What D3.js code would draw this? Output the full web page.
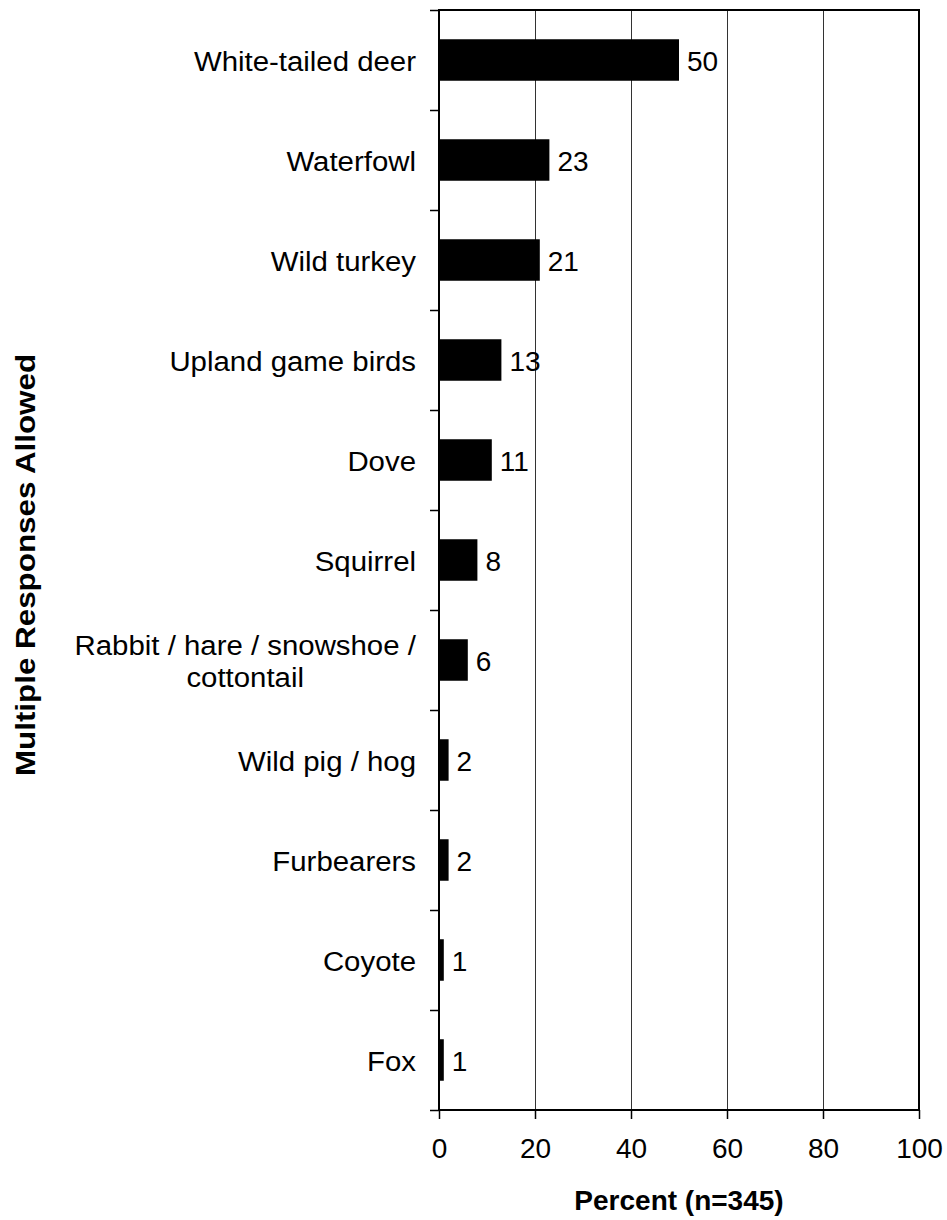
<!DOCTYPE html>
<html>
<head>
<meta charset="utf-8">
<script src="https://cdn.jsdelivr.net/npm/d3@7"></script>
<style>
  html, body { margin: 0; padding: 0; background: #fff; }
  svg { display: block; font-family: "Liberation Sans", Arial, Helvetica, sans-serif; }
</style>
</head>
<body>
<svg id="chart" width="947" height="1220"></svg>
<script>
// Species hunted (percent of respondents)
const categories = [
  "White-tailed deer",
  "Waterfowl",
  "Wild turkey",
  "Upland game birds",
  "Dove",
  "Squirrel",
  "Rabbit / hare / snowshoe / cottontail",
  "Wild pig / hog",
  "Furbearers",
  "Coyote",
  "Fox"
];
const percents = [50, 23, 21, 13, 11, 8, 6, 2, 2, 1, 1];
const xTickValues = [0, 20, 40, 60, 80, 100];
const gridValues = [20, 40, 60, 80];
const xTitle = "Percent (n=345)";
const yTitle = "Multiple Responses Allowed";

const W = 947, H = 1220;
const margin = { top: 10, right: 28, bottom: 110, left: 439 };
const w = W - margin.left - margin.right;
const h = H - margin.top - margin.bottom;
const FONT = 28;
const STRETCH = 1.05;       // slight horizontal widening of the label glyphs
const TITLE_STRETCH = 1.12;

const svg = d3.select("#chart");
const g = svg.append("g").attr("transform", `translate(${margin.left},${margin.top})`);

const x = d3.scaleLinear().domain([0, 100]).range([0, w]);
const y = d3.scaleBand().domain(categories).range([0, h])
  .paddingInner(0.585).paddingOuter(0.2925);
// Category boundaries, used for the tick marks between bars
const yEdge = d3.scaleLinear().domain([0, categories.length]).range([0, h]);

// Vertical gridlines
g.append("g")
  .call(d3.axisBottom(x).tickValues(gridValues).tickSize(h).tickFormat(""))
  .call(s => s.select(".domain").remove())
  .call(s => s.selectAll(".tick line").attr("stroke", "#333").attr("stroke-width", 1));

// Bars
g.selectAll("rect.bar")
  .data(categories)
  .join("rect")
  .attr("class", "bar")
  .attr("x", x(0))
  .attr("y", d => y(d))
  .attr("width", (d, i) => x(percents[i]) - x(0))
  .attr("height", y.bandwidth())
  .attr("fill", "#000");

// Plot frame
g.append("rect")
  .attr("x", 0).attr("y", 0).attr("width", w).attr("height", h)
  .attr("fill", "none").attr("stroke", "#000").attr("stroke-width", 2);

// X axis
const xAxis = g.append("g")
  .attr("transform", `translate(0,${h})`)
  .call(d3.axisBottom(x).tickValues(xTickValues).tickSize(9).tickPadding(19));
xAxis.select(".domain").remove();
xAxis.selectAll(".tick line").attr("stroke", "#000").attr("stroke-width", 1.5);
xAxis.selectAll(".tick text")
  .attr("font-size", FONT).attr("font-family", "Liberation Sans, Arial, sans-serif")
  .attr("fill", "#000");

// Y axis ticks at category boundaries
const yAxis = g.append("g")
  .call(d3.axisLeft(yEdge).tickValues(d3.range(categories.length + 1)).tickSize(9).tickFormat(""));
yAxis.select(".domain").remove();
yAxis.selectAll(".tick line").attr("stroke", "#000").attr("stroke-width", 1.5);

// Value labels
g.selectAll("text.value")
  .data(categories)
  .join("text")
  .attr("class", "value")
  .attr("font-size", FONT)
  .attr("dy", "0.4em")
  .attr("transform", (d, i) => `translate(${x(percents[i]) + 8},${y(d) + y.bandwidth() / 2})`)
  .text((d, i) => d3.format("d")(percents[i]));

// Category labels (wrapped when too wide)
const labelRight = -23;
const maxLabelWidth = 360;
const labels = g.append("g");
categories.forEach(cat => {
  const t = labels.append("text").attr("font-size", FONT);
  const words = cat.split(" ");
  const lines = [];
  let line = [];
  const probe = t.append("tspan");
  words.forEach(word => {
    const trial = line.concat(word).join(" ");
    probe.text(trial);
    if (probe.node().getComputedTextLength() * STRETCH > maxLabelWidth && line.length) {
      lines.push(line.join(" "));
      line = [word];
    } else {
      line.push(word);
    }
  });
  lines.push(line.join(" "));
  probe.remove();

  const lineH = 32;
  const cy = y(cat) + y.bandwidth() / 2;
  if (lines.length === 1) {
    t.attr("text-anchor", "end").attr("dy", "0.4em")
      .attr("transform", `translate(${labelRight},${cy}) scale(${STRETCH},1)`)
      .text(lines[0]);
  } else {
    // measure widest line, center all lines on it
    let maxW = 0;
    lines.forEach(l => {
      const tmp = t.append("tspan").text(l);
      maxW = Math.max(maxW, tmp.node().getComputedTextLength() * STRETCH);
      tmp.remove();
    });
    const cx = labelRight - maxW / 2;
    t.attr("text-anchor", "middle")
      .attr("transform", `translate(${cx},${cy}) scale(${STRETCH},1)`);
    lines.forEach((l, i) => {
      t.append("tspan")
        .attr("x", 0)
        .attr("y", (i - (lines.length - 1) / 2) * lineH)
        .attr("dy", "0.4em")
        .text(l);
    });
  }
});

// Axis titles
svg.append("text")
  .attr("font-size", FONT).attr("font-weight", "bold").attr("text-anchor", "middle")
  .attr("transform", `translate(${margin.left + w / 2},${H - 10})`)
  .text(xTitle);

svg.append("text")
  .attr("font-size", FONT).attr("font-weight", "bold").attr("text-anchor", "middle")
  .attr("transform", `translate(35,${margin.top + h / 2 + 5}) rotate(-90) scale(${TITLE_STRETCH},1)`)
  .text(yTitle);
</script>
</body>
</html>
